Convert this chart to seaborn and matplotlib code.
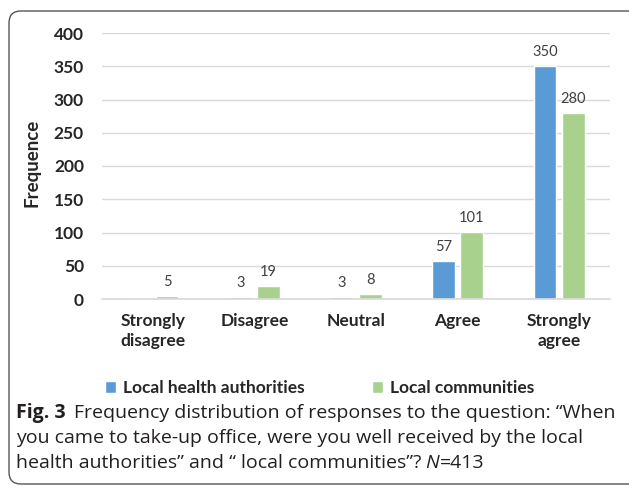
import numpy as np
import pandas as pd
import matplotlib
matplotlib.use('Agg')
import matplotlib.pyplot as plt
from matplotlib.patches import FancyBboxPatch
import seaborn as sns

# Data
CATEGORIES = ['Strongly\ndisagree', 'Disagree', 'Neutral', 'Agree', 'Strongly\nagree']
HEALTH_AUTH = [0, 3, 3, 57, 350]
COMMUNITIES = [5, 19, 8, 101, 280]
SERIES = ['Local health authorities', 'Local communities']
Y_TICKS = [0, 50, 100, 150, 200, 250, 300, 350, 400]

COLORS = ['#5B9BD5', '#A9D18E']
FONT = 'Lato'
CAP_FONT = 'Open Sans'
LBL_SIZE = 12.5

sns.set_theme(style='white')
plt.rcParams['font.family'] = [FONT, 'DejaVu Sans']

df = pd.DataFrame({
    'category': CATEGORIES * 2,
    'value': HEALTH_AUTH + COMMUNITIES,
    'series': [SERIES[0]] * len(CATEGORIES) + [SERIES[1]] * len(CATEGORIES),
})

fig = plt.figure(figsize=(6.29, 4.87), dpi=100)
ax = fig.add_axes([102 / 629, 1 - 299 / 487, 508 / 629, 266 / 487])

sns.barplot(data=df, x='category', y='value', hue='series', order=CATEGORIES,
            hue_order=SERIES, palette=COLORS, width=0.56, gap=0.2,
            saturation=1, ax=ax)

# value labels, zero values have no label in the original
for cont in ax.containers:
    labels = ['' if b.get_height() == 0 else f'{b.get_height():.0f}' for b in cont]
    ax.bar_label(cont, labels=labels, padding=5, fontsize=10.5, color='#404040')

ax.set_ylim(0, 400)
ax.set_yticks(Y_TICKS)
ax.yaxis.grid(True, color='#D9D9D9', linewidth=1)
ax.set_axisbelow(True)
for side in ['top', 'right', 'left']:
    ax.spines[side].set_visible(False)
ax.spines['bottom'].set_color('#D9D9D9')
ax.tick_params(axis='y', length=0, pad=13, labelsize=LBL_SIZE)
ax.tick_params(axis='x', length=0, pad=10, labelsize=LBL_SIZE)
for lbl in ax.get_xticklabels() + ax.get_yticklabels():
    lbl.set_fontweight('bold')
    lbl.set_color('#262626')
for lbl in ax.get_xticklabels():
    lbl.set_linespacing(1.3)
ax.set_xlabel('')
ax.set_ylabel('Frequence', fontsize=13.5, fontweight='bold', color='#262626')
ax.yaxis.set_label_coords(-(102 - 41) / 508, 0.51)

handles, labels = ax.get_legend_handles_labels()
ax.legend_.remove()
fig.legend(handles, labels, loc='center', bbox_to_anchor=(0.508, 1 - 388 / 487),
           ncol=2, frameon=False, handlelength=0.65, handleheight=0.65,
           handletextpad=0.4, columnspacing=3.9,
           prop={'family': FONT, 'weight': 'bold', 'size': LBL_SIZE})

# rounded border around chart + caption
border = FancyBboxPatch((0.09, 0.03), 6.6, 4.73,
                        boxstyle='round,pad=0,rounding_size=0.12',
                        transform=fig.dpi_scale_trans, facecolor='none',
                        edgecolor='#555555', linewidth=1.0, clip_on=False)
fig.patches.append(border)

# caption, drawn piece by piece so bold / italic parts line up
renderer = fig.canvas.get_renderer()
CAP_SIZE = 14
CAP_COLOR = '#231F20'


def draw_line(y_px, pieces):
    x = 16 / 629
    for text, weight, style, gap in pieces:
        t = fig.text(x, 1 - y_px / 487, text, fontsize=CAP_SIZE, fontweight=weight,
                     fontstyle=style, color=CAP_COLOR, va='center', ha='left',
                     family=[CAP_FONT, 'DejaVu Sans'])
        bb = t.get_window_extent(renderer)
        x = (bb.x1 + gap) / fig.bbox.width


draw_line(413, [('Fig. 3', 'bold', 'normal', 8),
                ('Frequency distribution of responses to the question: \u201cWhen',
                 'normal', 'normal', 0)])
draw_line(438, [('you came to take-up office, were you well received by the local',
                 'normal', 'normal', 0)])
draw_line(463, [('health authorities\u201d and \u201c local communities\u201d?',
                 'normal', 'normal', 4),
                ('N', 'normal', 'italic', 1),
                ('=413', 'normal', 'normal', 0)])

fig.savefig('out.png', dpi=100)
